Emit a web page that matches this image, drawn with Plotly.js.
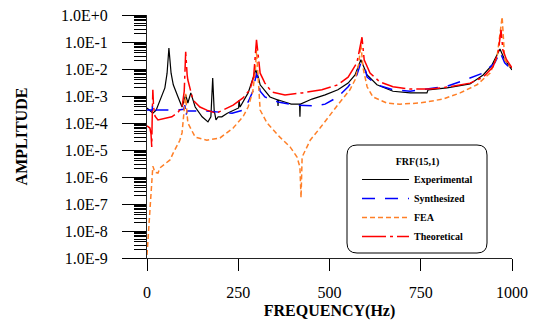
<!DOCTYPE html>
<html>
<head>
<meta charset="utf-8">
<script src="https://cdn.plot.ly/plotly-3.0.1.min.js"></script>
<style>html,body{margin:0;padding:0;background:#fff;}#chart{width:537px;height:322px;}</style>
</head>
<body>
<div id="chart"></div>
<script>
// ---- Data ----
const expFreq = [0, 8, 16, 25, 36, 49, 55, 60, 66, 72, 85, 96, 106, 112, 120, 132, 151, 167, 175, 180, 184, 189, 195, 205, 220, 247, 251, 252, 255, 277, 288, 298, 305, 310, 337, 358, 359, 360, 386, 395, 405, 418, 419, 420, 452, 488, 523, 551, 570, 586, 603, 630, 674, 721, 767, 770, 822, 885, 921, 945, 967, 980, 1000];
const expAmp  = [3.6e-4, 2.8e-4, 2.3e-4, 3.0e-4, 7.1e-4, 2.0e-3, 7.0e-3, 6.0e-2, 7.0e-3, 2.6e-3, 9.2e-4, 3.9e-4, 1.1e-3, 5.5e-4, 1.3e-3, 3.9e-4, 1.7e-4, 1.1e-4, 1.7e-4, 4.6e-3, 3.0e-4, 1.3e-4, 1.7e-4, 1.7e-4, 2.3e-4, 3.6e-4, 3.6e-4, 7.0e-4, 3.9e-4, 1.3e-3, 3.3e-3, 9.2e-3, 5.0e-3, 2.6e-3, 9.2e-4, 7.1e-4, 4.3e-4, 7.1e-4, 5.5e-4, 5.0e-4, 5.0e-4, 5.0e-4, 1.7e-4, 5.0e-4, 7.7e-4, 1.1e-3, 1.7e-3, 3.0e-3, 6.0e-3, 2.2e-2, 6.0e-3, 2.6e-3, 1.5e-3, 1.3e-3, 1.3e-3, 1.7e-3, 2.0e-3, 2.8e-3, 6.0e-3, 1.4e-2, 5.5e-2, 2.2e-2, 9.2e-3];

const synFreq = [0, 12, 14, 15, 17, 30, 49, 80, 100, 104, 106, 110, 160, 200, 233, 263, 277, 290, 300, 310, 323, 359, 405, 460, 488, 523, 551, 575, 586, 595, 603, 630, 674, 721, 767, 822, 871, 921, 953, 967, 980, 1000];
const synAmp  = [3.0e-4, 3.0e-4, 2.5e-4, 5.0e-4, 3.0e-4, 3.0e-4, 3.0e-4, 3.0e-4, 3.2e-4, 4.5e-4, 1.7e-4, 2.8e-4, 2.8e-4, 2.5e-4, 2.3e-4, 3.0e-4, 6.0e-4, 1.5e-3, 7.0e-3, 1.5e-3, 9.2e-4, 6.0e-4, 4.6e-4, 4.3e-4, 5.0e-4, 9.2e-4, 2.2e-3, 6.0e-3, 1.7e-2, 1.4e-2, 5.0e-3, 2.6e-3, 1.7e-3, 1.5e-3, 1.8e-3, 2.3e-3, 3.9e-3, 7.1e-3, 1.7e-2, 4.3e-2, 1.7e-2, 9.2e-3];

const feaFreq = [0, 8, 14, 16, 22, 30, 36, 63, 72, 85, 90, 96, 100, 104, 106, 108, 112, 132, 164, 200, 236, 263, 277, 290, 297, 300, 303, 310, 329, 364, 392, 411, 419, 422, 425, 447, 474, 501, 529, 556, 570, 580, 586, 592, 603, 619, 657, 693, 748, 811, 858, 904, 940, 959, 973, 980, 995];
const feaAmp  = [1.3e-9, 4.7e-8, 1.0e-6, 2.5e-6, 1.5e-6, 1.4e-6, 2.2e-6, 4.3e-6, 7.8e-6, 1.8e-5, 2.3e-5, 4.3e-5, 1.3e-4, 5.0e-4, 1.2e-3, 4.0e-4, 1.0e-4, 3.0e-5, 2.3e-5, 2.8e-5, 6.5e-5, 1.7e-4, 3.9e-4, 1.5e-3, 1.0e-2, 5.0e-2, 1.0e-2, 3.0e-4, 1.0e-4, 3.0e-5, 1.3e-5, 5.5e-6, 2.3e-6, 1.7e-7, 5.5e-6, 2.3e-5, 6.5e-5, 2.0e-4, 6.0e-4, 1.7e-3, 4.0e-3, 1.5e-2, 8.0e-2, 1.1e-2, 2.2e-3, 9.2e-4, 5.5e-4, 5.0e-4, 5.5e-4, 7.7e-4, 1.3e-3, 2.6e-3, 7.1e-3, 2.8e-2, 8.5e-1, 2.2e-2, 1.2e-2];

const theFreq = [0, 8, 11, 13, 14, 16, 18, 22, 30, 50, 68, 85, 96, 102, 106, 110, 112, 126, 145, 164, 189, 208, 236, 263, 282, 292, 300, 310, 323, 342, 378, 425, 479, 523, 551, 575, 589, 595, 611, 638, 674, 721, 776, 830, 885, 921, 948, 962, 970, 975, 985, 1000];
const theAmp  = [7.8e-5, 6.5e-5, 4.0e-5, 1.3e-5, 1.0e-4, 1.7e-3, 4.0e-4, 1.8e-4, 1.3e-4, 1.5e-4, 1.7e-4, 2.5e-4, 3.9e-4, 1.5e-3, 4.3e-2, 6.0e-3, 3.9e-3, 7.1e-4, 3.9e-4, 3.0e-4, 2.3e-4, 3.0e-4, 4.6e-4, 8.5e-4, 1.7e-3, 5.0e-3, 1.2e-1, 7.0e-3, 3.0e-3, 1.4e-3, 1.1e-3, 1.3e-3, 1.7e-3, 2.6e-3, 5.0e-3, 1.7e-2, 1.5e-1, 2.2e-2, 7.1e-3, 3.3e-3, 2.2e-3, 1.8e-3, 1.8e-3, 2.2e-3, 3.0e-3, 5.0e-3, 1.2e-2, 4.0e-2, 2.8e-1, 5.0e-2, 2.2e-2, 1.1e-2];

const xTicks = [0, 250, 500, 750, 1000];
const yTickVals = [1, 1e-1, 1e-2, 1e-3, 1e-4, 1e-5, 1e-6, 1e-7, 1e-8, 1e-9];
const yTickText = ["1.0E+0", "1.0E-1", "1.0E-2", "1.0E-3", "1.0E-4", "1.0E-5", "1.0E-6", "1.0E-7", "1.0E-8", "1.0E-9"];
const seriesNames = ["Experimental", "Synthesized", "FEA", "Theoretical"];
const legendTitle = "FRF(15,1)";

// ---- Plot ----
const serif = "Liberation Serif, Times New Roman, serif";
const traces = [
  {x: expFreq, y: expAmp, name: seriesNames[0], mode: "lines", line: {color: "#000000", width: 1.2}},
  {x: synFreq, y: synAmp, name: seriesNames[1], mode: "lines", line: {color: "#0000ff", width: 1.5, dash: "13px,10px"}},
  {x: feaFreq, y: feaAmp, name: seriesNames[2], mode: "lines", line: {color: "#ff7f27", width: 1.5, dash: "5px,3px"}},
  {x: theFreq, y: theAmp, name: seriesNames[3], mode: "lines", line: {color: "#ff0000", width: 1.5, dash: "24px,4px,3px,4px"}}
];

// rounded legend frame (paper coords)
const L = 147, R = 512, T = 15, B = 258, W = R - L, H = B - T;
function px(x) { return (x - L) / W; }
function py(y) { return (B - y) / H; }
const bx0 = px(347), bx1 = px(487), by0 = py(253), by1 = py(145);
const rx = 10 / W, ry = 10 / H;
const framePath = `M ${bx0+rx},${by0} L ${bx1-rx},${by0} Q ${bx1},${by0} ${bx1},${by0+ry} L ${bx1},${by1-ry} Q ${bx1},${by1} ${bx1-rx},${by1} L ${bx0+rx},${by1} Q ${bx0},${by1} ${bx0},${by1-ry} L ${bx0},${by0+ry} Q ${bx0},${by0} ${bx0+rx},${by0} Z`;

const layout = {
  width: 537, height: 322,
  margin: {l: L, r: 537 - R, t: T, b: 322 - B},
  paper_bgcolor: "#ffffff", plot_bgcolor: "#ffffff",
  font: {family: serif, color: "#000000", size: 16},
  showlegend: true,
  legend: {
    x: px(357), xanchor: "left", y: py(152), yanchor: "top",
    bgcolor: "rgba(0,0,0,0)", borderwidth: 0,
    font: {family: serif, size: 10, color: "#000", weight: "bold"},
    title: {text: "<b>" + legendTitle + "</b>", side: "top center", font: {family: serif, size: 10}},
    itemwidth: 47,
    tracegroupgap: 0
  },
  xaxis: {
    range: [0, 1000], tickmode: "array", tickvals: xTicks,
    ticks: "outside", ticklen: 12, tickcolor: "#000", tickwidth: 1,
    showline: true, linecolor: "#222", linewidth: 1,
    showgrid: false, zeroline: false,
    tickfont: {family: serif, size: 16},
    ticklabelstandoff: 8,
    title: {text: "<b>FREQUENCY(Hz)</b>", font: {family: serif, size: 16}, standoff: 4}
  },
  yaxis: {
    type: "log", range: [-9, 0],
    tickmode: "array", tickvals: yTickVals, ticktext: yTickText,
    ticks: "outside", ticklen: 24, tickcolor: "#000", tickwidth: 1,
    minor: {ticks: "outside", ticklen: 12, dtick: "D1", tickcolor: "#000", tickwidth: 1, showgrid: false},
    showline: true, linecolor: "#222", linewidth: 1,
    showgrid: false, zeroline: false,
    tickfont: {family: serif, size: 16},
    ticklabelstandoff: 11,
    title: {text: "<b>AMPLITUDE</b>", font: {family: serif, size: 16}, standoff: 29}
  },
  shapes: [{type: "path", xref: "paper", yref: "paper", path: framePath, line: {color: "#000", width: 1}, fillcolor: "rgba(0,0,0,0)", layer: "above"}]
};

Plotly.newPlot("chart", traces, layout, {displayModeBar: false, staticPlot: true});
</script>
</body>
</html>
